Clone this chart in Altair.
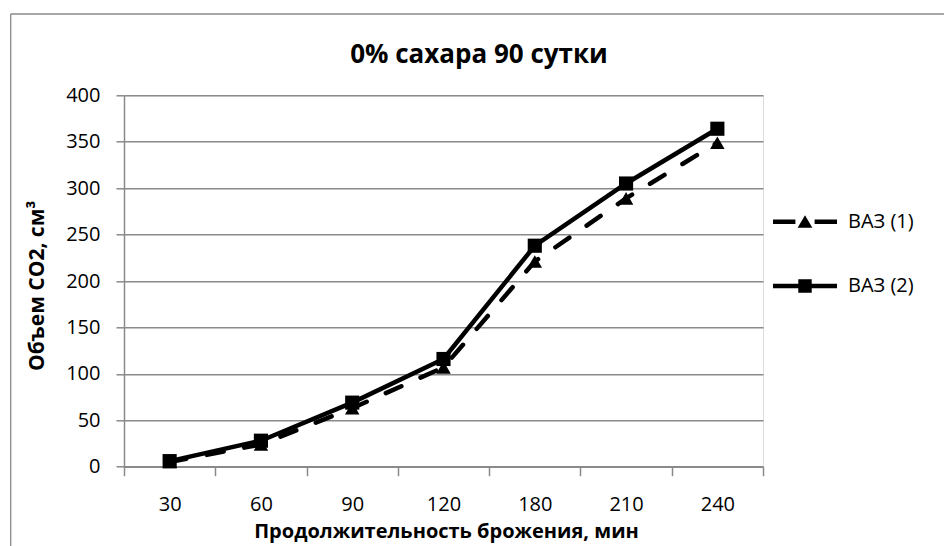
import altair as alt
import pandas as pd

categories = ["30", "60", "90", "120", "180", "210", "240"]
vaz1 = [5, 24, 63, 107, 221, 289, 349]
vaz2 = [6, 28, 69, 116, 238, 305, 364]
series = ["ВАЗ (1)", "ВАЗ (2)"]
y_ticks = [0, 50, 100, 150, 200, 250, 300, 350, 400]
title_text = "0% сахара 90 сутки"
x_title = "Продолжительность брожения, мин"
y_title = "Объем CO2, см³"

df = pd.DataFrame({
    "t": categories * 2,
    "v": vaz1 + vaz2,
    "s": [series[0]] * len(vaz1) + [series[1]] * len(vaz2),
})
one = pd.DataFrame({"k": [0]})

FONT = "Open Sans"
GRAY = "#8a8a8a"
W, H = 639, 371.4

x_enc = alt.X(
    "t:N", sort=categories,
    scale=alt.Scale(type="band", domain=categories, paddingInner=0, paddingOuter=0),
    axis=alt.Axis(
        title=x_title, tickBand="extent", labelAngle=0, grid=False,
        domainColor=GRAY, domainWidth=1.5, tickColor=GRAY, tickWidth=1.5, tickSize=9,
        labelFont=FONT, labelFontSize=20, labelColor="black", labelPadding=19,
        titleFont=FONT, titleFontSize=20, titleFontWeight="bold", titleColor="black",
        titleX=322, titleY=65, titleAlign="center", titleBaseline="middle",
    ),
)
y_enc = alt.Y(
    "v:Q",
    scale=alt.Scale(domain=[0, 400], nice=False),
    axis=alt.Axis(
        values=y_ticks, title=y_title, grid=True, gridColor=GRAY, gridWidth=1.5,
        domainColor=GRAY, domainWidth=1.5, tickColor=GRAY, tickWidth=1.5, tickSize=8,
        labelFont=FONT, labelFontSize=20, labelColor="black", labelPadding=16,
        titleFont=FONT, titleFontSize=21, titleFontWeight="bold", titleColor="black",
        titleX=-87, titleY=190, titleAlign="center", titleBaseline="middle",
    ),
)

base = alt.Chart(df).encode(x=x_enc, y=y_enc)
s1 = base.transform_filter(alt.datum.s == series[0])
s2 = base.transform_filter(alt.datum.s == series[1])

l1 = s1.mark_line(color="black", strokeWidth=4.5, strokeDash=[17, 21], strokeCap="round")
p1 = s1.mark_point(shape="triangle-up", filled=True, color="black", size=210, opacity=1)
l2 = s2.mark_line(color="black", strokeWidth=4.5)
p2 = s2.mark_point(shape="square", filled=True, color="black", size=200, opacity=1)

P1 = "M-1,-0.07H-0.3V0.07H-1Z M0.3,-0.07H1V0.07H0.3Z M-0.23,0.19L0,-0.2L0.23,0.19Z"
P2 = "M-1,-0.07H1V0.07H-1Z M-0.21,-0.21H0.21V0.21H-0.21Z"

leg = alt.Chart(df).transform_filter("datum.v < 0").mark_point(
    filled=True, color="black", opacity=1, size=4096
).encode(
    shape=alt.Shape(
        "s:N",
        scale=alt.Scale(domain=series, range=[P1, P2]),
        legend=alt.Legend(
            orient="none", legendX=649, legendY=94.4, title=None,
            symbolSize=4096, symbolStrokeWidth=0, symbolOpacity=1,
            labelFont=FONT, labelFontSize=20, labelColor="black",
            labelOffset=11, rowPadding=22.3, padding=0,
        ),
    )
)

title = alt.Chart(one).mark_text(
    text=title_text, font=FONT, fontSize=26, fontWeight="bold", color="black",
    align="center", baseline="alphabetic",
).encode(x=alt.value(355), y=alt.value(-32))

border_top = alt.Chart(one).mark_rule(color=GRAY, strokeWidth=1.3).encode(
    x=alt.value(-113.3), x2=alt.value(830), y=alt.value(-81.3)
)
border_left = alt.Chart(one).mark_rule(color=GRAY, strokeWidth=1.3).encode(
    x=alt.value(-113.3), y=alt.value(-81.3), y2=alt.value(470)
)

chart = alt.layer(border_top, border_left, title, l1, p1, l2, p2, leg).properties(
    width=W, height=H,
    padding={"left": 124, "top": 95.3, "right": 181, "bottom": 79.3},
    autosize=alt.AutoSizeParams(type="none"),
).configure_view(stroke=None).configure(background="white")

chart.save("out.html", embed_options={"renderer": "svg", "actions": False})
